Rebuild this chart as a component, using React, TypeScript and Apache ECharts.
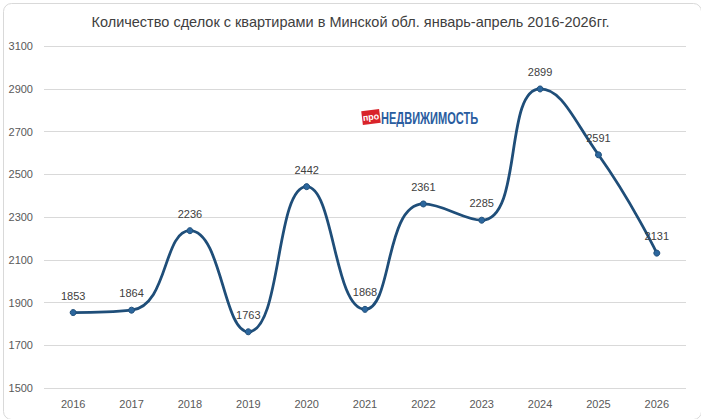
import React, { useEffect, useRef } from "react";
import * as echarts from "echarts";

const years = ["2016", "2017", "2018", "2019", "2020", "2021", "2022", "2023", "2024", "2025", "2026"];
const deals = [1853, 1864, 2236, 1763, 2442, 1868, 2361, 2285, 2899, 2591, 2131];
const titleText = "Количество сделок с квартирами в Минской обл. январь-апрель 2016-2026гг.";
const yMin = 1500;
const yMax = 3100;
const yStep = 200;

const FONT = "'Liberation Sans', Arial, sans-serif";

export default function App() {
  const ref = useRef<HTMLDivElement>(null);
  useEffect(() => {
    if (!ref.current) return;
    const chart = echarts.init(ref.current, undefined, { renderer: "svg" });
    chart.setOption({
      animation: false,
      backgroundColor: "#ffffff",
      title: {
        text: titleText,
        left: "center",
        top: 9,
        textStyle: { fontFamily: FONT, fontSize: 14.5, fontWeight: "normal", color: "#404040" },
      },
      grid: { left: 44, right: 15, top: 46, bottom: 31, containLabel: false },
      xAxis: {
        type: "category",
        data: years,
        boundaryGap: true,
        axisLine: { show: false },
        axisTick: { show: false },
        axisLabel: { fontFamily: FONT, fontSize: 11, color: "#595959", margin: 10 },
      },
      yAxis: {
        type: "value",
        min: yMin,
        max: yMax,
        interval: yStep,
        axisLine: { show: false },
        axisTick: { show: false },
        splitLine: { lineStyle: { color: "#d9d9d9", width: 1 } },
        axisLabel: {
          fontFamily: FONT,
          fontSize: 11,
          color: "#595959",
          margin: 11,
          align: "right",
          formatter: (v: number) => String(v),
        },
      },
      series: [
        {
          type: "line",
          data: deals,
          smooth: 0.5,
          symbol: "circle",
          symbolSize: 6,
          lineStyle: { color: "#1f4e79", width: 2.8 },
          itemStyle: { color: "#2c679e", borderColor: "#1f4e79", borderWidth: 1 },
          label: {
            show: true,
            position: "top",
            distance: 8,
            fontFamily: FONT,
            fontSize: 11,
            color: "#404040",
          },
        },
      ],
      graphic: [
        {
          type: "rect",
          left: 1,
          top: 1,
          shape: { width: 698, height: 416, r: 8 },
          style: { fill: "none", stroke: "#d9d9d9", lineWidth: 1 },
          silent: true,
        },
        {
          type: "group",
          x: 371,
          y: 117,
          rotation: 0.12,
          children: [
            {
              type: "rect",
              shape: { x: -9, y: -7, width: 18, height: 14 },
              style: { fill: "#d9232a" },
            },
            {
              type: "text",
              x: 0,
              y: 0,
              style: {
                text: "про",
                fill: "#ffffff",
                font: "bold 9px 'Liberation Sans', Arial, sans-serif",
                align: "center",
                verticalAlign: "middle",
              },
            },
          ],
        },
        {
          type: "text",
          x: 381,
          y: 118,
          scaleX: 0.65,
          style: {
            text: "НЕДВИЖИМОСТЬ",
            fill: "#2a5d9f",
            font: "bold 17px 'Liberation Sans', Arial, sans-serif",
            verticalAlign: "middle",
          },
        },
      ],
    });
    return () => chart.dispose();
  }, []);
  return (
    <div
      ref={ref}
      style={{ position: "absolute", left: 0, top: 0, width: 701, height: 419 }}
    />
  );
}
